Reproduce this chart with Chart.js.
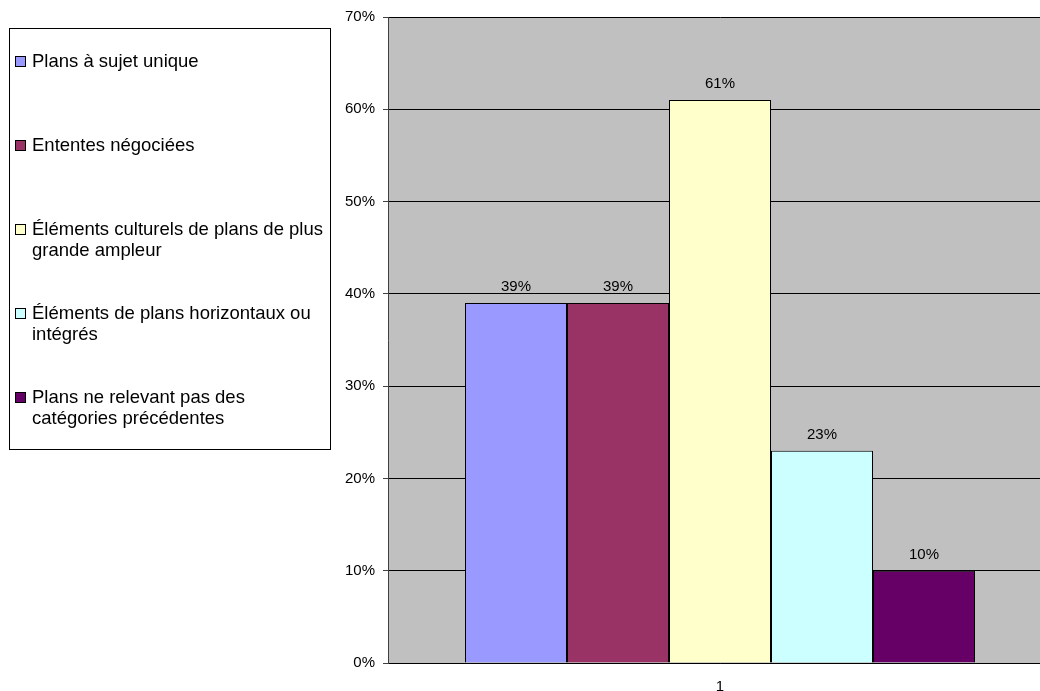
<!DOCTYPE html>
<html>
<head>
<meta charset="utf-8">
<script src="https://cdn.jsdelivr.net/npm/chart.js@4"></script>
<style>
  html, body { margin: 0; padding: 0; background: #fff; overflow: hidden; }
  #wrap { width: 1052px; height: 691px; position: relative; }
</style>
</head>
<body>
<div id="wrap"><canvas id="chart"></canvas></div>
<script>
// ---- data ----
const categories = ["1"];
const seriesNames = [
    ["Plans à sujet unique"],
    ["Ententes négociées"],
    ["Éléments culturels de plans de plus", "grande ampleur"],
    ["Éléments de plans horizontaux ou", "intégrés"],
    ["Plans ne relevant pas des", "catégories précédentes"]
];
const seriesValues = [39, 39, 61, 23, 10];
const seriesColors = ["#9999FF", "#993366", "#FFFFCC", "#CCFFFF", "#660066"];
const yTicks = [0, 10, 20, 30, 40, 50, 60, 70];

const FONT = "'Liberation Sans', Arial, sans-serif";

// grey plot background
const plotBg = {
    id: "plotBg",
    beforeDraw(chart) {
        const { ctx, chartArea: a } = chart;
        ctx.save();
        ctx.fillStyle = "#C0C0C0";
        ctx.fillRect(a.left, a.top, a.right - a.left, a.bottom - a.top);
        ctx.restore();
    }
};

// value labels above bars
const valueLabels = {
    id: "valueLabels",
    afterDatasetsDraw(chart) {
        const ctx = chart.ctx;
        ctx.save();
        ctx.font = "15px " + FONT;
        ctx.fillStyle = "#000";
        ctx.textAlign = "center";
        ctx.textBaseline = "middle";
        chart.data.datasets.forEach((ds, i) => {
            const bar = chart.getDatasetMeta(i).data[0];
            ctx.fillText(ds.data[0] + "%", bar.x, bar.y - 16);
        });
        ctx.restore();
    }
};

// boxed legend on the left
const boxLegend = {
    id: "boxLegend",
    afterDraw(chart) {
        const ctx = chart.ctx;
        ctx.save();
        ctx.fillStyle = "#fff";
        ctx.fillRect(9, 28, 321, 421);
        ctx.strokeStyle = "#000";
        ctx.lineWidth = 1;
        ctx.strokeRect(9.5, 28.5, 321, 421);

        ctx.font = "18.5px " + FONT;
        ctx.textBaseline = "middle";
        ctx.textAlign = "left";
        chart.data.datasets.forEach((ds, i) => {
            const y = 61.5 + i * 84;
            ctx.fillStyle = ds.backgroundColor;
            ctx.fillRect(15, y - 5.5, 11, 11);
            ctx.strokeStyle = "#000";
            ctx.strokeRect(15.5, y - 5, 10, 10);
            ctx.fillStyle = "#000";
            ds.label.forEach((line, j) => {
                ctx.fillText(line, 32, y + j * 21.7);
            });
        });
        ctx.restore();
    }
};

const datasets = seriesNames.map((name, i) => ({
    label: name,
    data: [seriesValues[i]],
    backgroundColor: seriesColors[i],
    borderColor: "#000",
    borderWidth: 1,
    categoryPercentage: 510 / 664, // whole-pixel bar edges
    barPercentage: 1
}));

new Chart(document.getElementById("chart"), {
    type: "bar",
    data: { labels: categories, datasets },
    options: {
        responsive: true,
        maintainAspectRatio: false,
        animation: false,
        layout: { padding: { left: 330, top: 16, right: 0, bottom: 0 } },
        plugins: {
            legend: { display: false },
            tooltip: { enabled: false }
        },
        scales: {
            x: {
                grid: { drawOnChartArea: false, drawTicks: false },
                border: { color: "#000", width: 1 },
                ticks: { color: "#000", font: { family: FONT, size: 15 }, padding: 15 },
                afterFit(scale) { scale.height = 28; }
            },
            y: {
                min: 0,
                max: 70,
                afterBuildTicks(scale) { scale.ticks = yTicks.map(v => ({ value: v })); },
                grid: { color: "#000", tickColor: "#404040", tickLength: 5 },
                border: { color: "#404040", width: 1 },
                ticks: {
                    color: "#000",
                    font: { family: FONT, size: 15 },
                    padding: 8,
                    callback: v => v + "%"
                },
                afterFit(scale) { scale.width = 58; }
            }
        }
    },
    plugins: [plotBg, valueLabels, boxLegend]
});
</script>
</body>
</html>
